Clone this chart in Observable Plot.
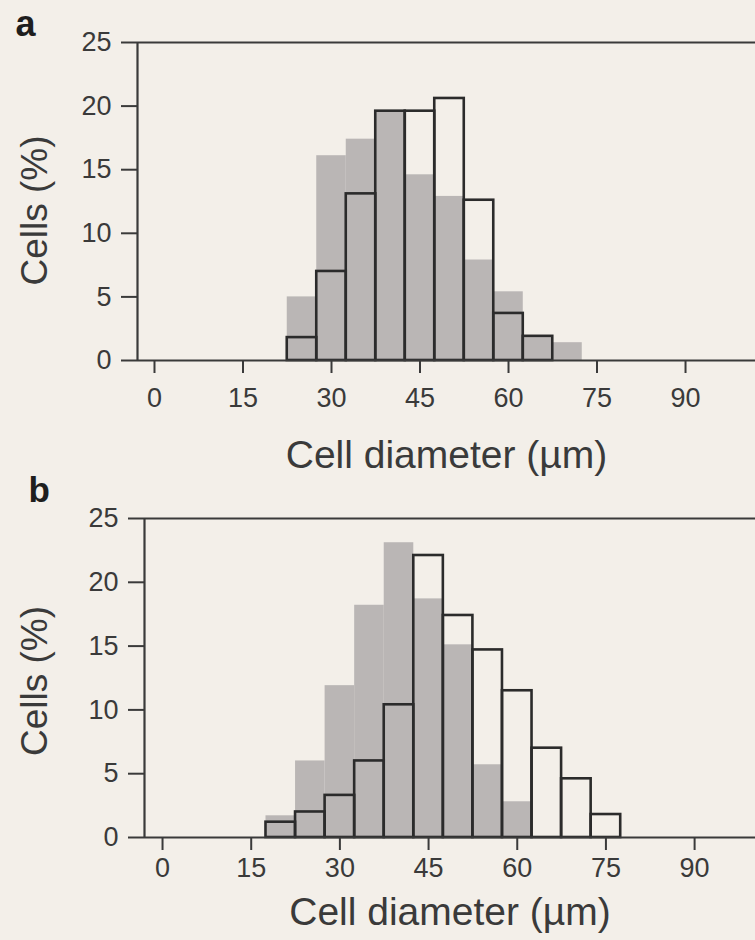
<!DOCTYPE html>
<html><head><meta charset="utf-8">
<script src="https://cdn.jsdelivr.net/npm/d3@7"></script>
<script src="https://cdn.jsdelivr.net/npm/@observablehq/plot@0.6"></script>
<style>
html,body{margin:0;padding:0;background:#f3efe9;}
#chart{width:755px;height:940px;overflow:hidden;}
#chart svg{display:block;}
</style></head><body><div id="chart"></div>
<script>
// Bin centres (µm), each bin is 5 µm wide
const binWidth = 5;
const binsAGray = [25, 30, 35, 40, 45, 50, 55, 60, 65, 70];
const cellsAGray = [5.0, 16.1, 17.4, 19.6, 14.6, 12.9, 7.9, 5.4, 1.9, 1.4];
const binsAOutline = [25, 30, 35, 40, 45, 50, 55, 60, 65];
const cellsAOutline = [1.8, 7.0, 13.1, 19.6, 19.6, 20.6, 12.6, 3.7, 1.9];

const binsBGray = [20, 25, 30, 35, 40, 45, 50, 55, 60];
const cellsBGray = [1.7, 6.0, 11.9, 18.2, 23.1, 18.7, 15.1, 5.7, 2.8];
const binsBOutline = [20, 25, 30, 35, 40, 45, 50, 55, 60, 65, 70, 75];
const cellsBOutline = [1.2, 2.0, 3.3, 6.0, 10.4, 22.1, 17.4, 14.7, 11.5, 7.0, 4.6, 1.8];

const xTicks = [0, 15, 30, 45, 60, 75, 90];
const yTicks = [0, 5, 10, 15, 20, 25];
const panelLetters = ["a", "b"];
const xTitle = "Cell diameter (µm)";
const yTitle = "Cells (%)";

const ink = "#3a3a3a";
const grayFill = "#bab6b5";

function rows(bins, vals) { return bins.map((c, i) => ({c, v: vals[i]})); }

function panel(o) {
  const gray = rows(o.grayBins, o.grayVals);
  const outl = rows(o.outBins, o.outVals);
  return Plot.plot({
    width: 755, height: o.height,
    marginLeft: o.ml, marginRight: 0, marginTop: o.mt, marginBottom: o.mb,
    style: {background: "transparent", fontFamily: "'Liberation Sans', Arial, sans-serif", color: ink, overflow: "visible"},
    x: {domain: o.xDomain},
    y: {domain: [0, 25]},
    marks: [
      Plot.rectY(gray, {x1: d => d.c - binWidth / 2, x2: d => d.c + binWidth / 2, y: "v", fill: grayFill}),
      Plot.rectY(outl, {x1: d => d.c - binWidth / 2, x2: d => d.c + binWidth / 2, y: "v", fill: "none", stroke: "#2b2b2b", strokeWidth: 2.6}),
      Plot.ruleY([0], {stroke: ink, strokeWidth: 2.2}),
      Plot.ruleY([25], {stroke: ink, strokeWidth: 2.2}),
      Plot.ruleX([o.xDomain[0]], {stroke: ink, strokeWidth: 2.2}),
      Plot.axisY({ticks: yTicks, tickSize: 16, tickPadding: 10, fontSize: 27, strokeWidth: 2, label: null, tickFormat: d => d}),
      Plot.axisX({ticks: xTicks, tickSize: 13, tickPadding: o.xPad, fontSize: 27, strokeWidth: 2, label: null, tickFormat: d => d}),
      Plot.text([yTitle], {text: d => d, frameAnchor: "left", textAnchor: "middle", lineAnchor: "middle", rotate: -90, dx: o.yTitleDx, dy: o.yTitleDy, fontSize: 37, fill: ink}),
      Plot.text([xTitle], {text: d => d, frameAnchor: "bottom", textAnchor: "middle", lineAnchor: "middle", dy: o.xTitleDy, fontSize: 39, fill: ink}),
      Plot.text([o.letter], {text: d => d, frameAnchor: "top-left", textAnchor: "start", lineAnchor: "top", dx: o.letterDx, dy: o.letterDy, fontSize: o.letterSize, fontWeight: "bold", fill: "#1e1e1e"})
    ]
  });
}

const chart = document.getElementById("chart");
chart.append(panel({
  letter: panelLetters[0], height: 480, ml: 137, mt: 42, mb: 120,
  xDomain: [-2.88, 101.86], xPad: 14,
  grayBins: binsAGray, grayVals: cellsAGray, outBins: binsAOutline, outVals: cellsAOutline,
  yTitleDx: -102, yTitleDy: 9, xTitleDy: 95, letterDx: -122, letterDy: -32, letterSize: 36
}));
chart.append(panel({
  letter: panelLetters[1], height: 460, ml: 144, mt: 38, mb: 103,
  xDomain: [-3.05, 100.3], xPad: 7,
  grayBins: binsBGray, grayVals: cellsBGray, outBins: binsBOutline, outVals: cellsBOutline,
  yTitleDx: -109, yTitleDy: 3, xTitleDy: 75, letterDx: -116, letterDy: -41, letterSize: 35
}));
</script></body></html>
